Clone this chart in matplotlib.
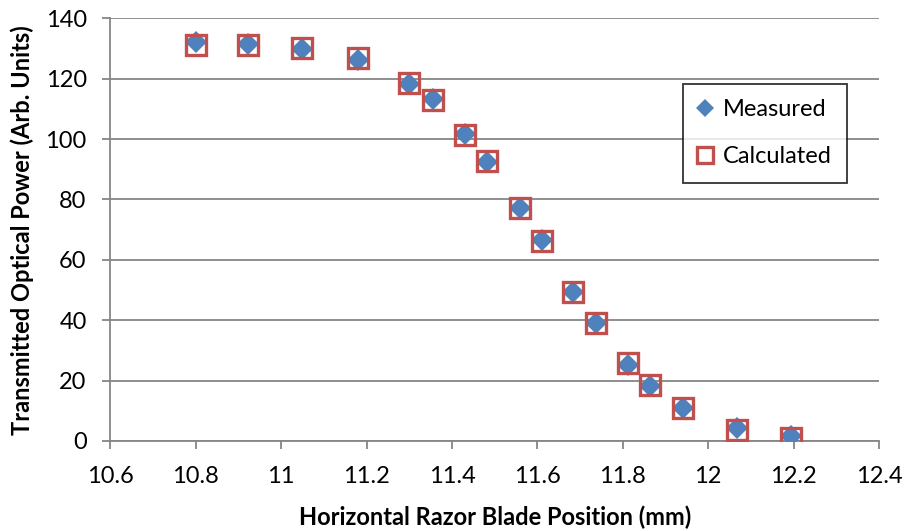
import matplotlib
matplotlib.use("Agg")
import matplotlib.pyplot as plt

# razor blade position (mm) and transmitted power
pos = [10.80, 10.923, 11.05, 11.18, 11.30, 11.355, 11.43, 11.483, 11.56,
       11.61, 11.684, 11.737, 11.813, 11.864, 11.94, 12.068, 12.193]
measured = [132.0, 131.5, 130.0, 126.3, 118.3, 113.2, 101.8, 92.5, 77.1,
            66.5, 49.5, 39.0, 25.2, 18.3, 11.0, 4.3, 1.6]
calculated = [131.2, 131.2, 130.1, 127.0, 118.5, 113.0, 101.4, 92.8, 77.1,
              66.3, 49.3, 39.2, 25.8, 18.6, 11.0, 3.6, 0.9]

plt.rcParams['font.family'] = ['Lato', 'DejaVu Sans']

fig = plt.figure(figsize=(9.05, 5.31), dpi=100)
ax = fig.add_axes([0.1219, 0.1695, 0.8494, 0.796])

ax.plot(pos, measured, 'D', color='#4F81BD', markersize=11.5,
        markeredgewidth=0, label='Measured', zorder=3)
ax.plot(pos, calculated, 's', markerfacecolor='none', markeredgecolor='#C0504D',
        markersize=14, markeredgewidth=2.4, label='Calculated', zorder=4)

ax.set_xlim(10.6, 12.4)
ax.set_ylim(0, 140)
ax.set_xticks([10.6, 10.8, 11, 11.2, 11.4, 11.6, 11.8, 12, 12.2, 12.4])
ax.set_xticklabels(['10.6', '10.8', '11', '11.2', '11.4', '11.6', '11.8', '12', '12.2', '12.4'])
ax.set_yticks(range(0, 141, 20))

ax.grid(axis='y', color='#868686', linewidth=1.3)
ax.set_axisbelow(True)
for s in ['top', 'right']:
    ax.spines[s].set_visible(False)
for s in ['left', 'bottom']:
    ax.spines[s].set_color('#868686')
    ax.spines[s].set_linewidth(1.3)
ax.tick_params(direction='out', length=6, width=1.3, color='#868686',
               labelsize=17)
ax.tick_params(axis='x', pad=12)
ax.tick_params(axis='y', pad=11)

ax.set_xlabel('Horizontal Razor Blade Position (mm)', fontsize=17,
              fontweight='bold', labelpad=13)
ax.set_ylabel('Transmitted Optical Power (Arb. Units)', fontsize=17,
              fontweight='bold', labelpad=8)

leg = ax.legend(loc='upper left', bbox_to_anchor=(0.745, 0.845), fontsize=17,
                frameon=True, fancybox=False, edgecolor='black',
                handlelength=0.6, handletextpad=0.45, labelspacing=1.1,
                borderpad=0.65, borderaxespad=0, markerscale=0.8)
leg.get_frame().set_linewidth(1.3)

fig.savefig('out.png', dpi=100)
